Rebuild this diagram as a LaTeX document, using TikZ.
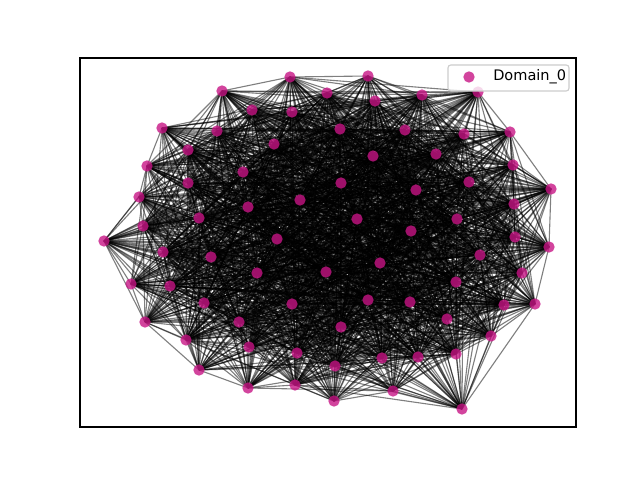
\documentclass[tikz,border=0pt]{standalone}
\usepackage{fontspec}
\setmainfont{DejaVu Sans}
\definecolor{mvr}{RGB}{199,21,133}
\tikzset{
  edge/.style={draw=black, draw opacity=0.5, line width=0.8pt},
  dot/.style={fill=mvr, fill opacity=0.8},
  legframe/.style={draw=black!20, fill=white, fill opacity=0.8, line width=0.8pt, rounded corners=2pt},
  frame/.style={draw=black, line width=0.8pt}
}
\begin{document}
\begin{tikzpicture}[x=0.01in,y=-0.01in]
\useasboundingbox (0,0) rectangle (640,480);
\def\xs{{222,290,368,478,510,513,551,514,515,549,522,535,504,491,462,456,418,393,382,334,335,295,297,248,249,199,186,145,131,104,143,139,147,162,252,292,327,375,422,217,274,340,405,464,188,243,373,436,469,188,341,416,248,300,199,357,457,411,277,163,211,380,326,257,480,170,456,204,292,368,410,239,447,341}}
\def\ys{{91,77,76,92,132,165,189,204,237,247,273,304,305,336,409,354,357,391,358,401,366,385,353,388,347,370,340,322,284,241,226,197,166,128,110,112,93,101,95,131,144,129,130,134,150,172,156,154,182,183,183,190,207,200,218,219,219,231,239,252,257,263,272,273,255,286,282,303,304,300,302,322,319,327}}
\def\ws{{0.62,0.62,0.62,0.62,0.62,0.85,0.62,0.85,0.85,0.62,0.85,0.62,0.85,0.62,0.62,0.85,0.85,0.62,0.85,0.62,0.85,0.62,0.85,0.62,0.85,0.62,0.85,0.62,0.62,0.62,0.72,0.62,0.62,0.62,0.85,0.85,0.85,0.85,0.85,0.85,1,1,1,0.85,0.85,1,1,1,1,0.85,1,1,1,1,0.85,1,1,1,1,0.85,1,1,1,1,0.85,0.85,1,0.85,1,1,1,0.85,0.85,1}}
% node positions
\foreach \k in {1,...,74}{
  \pgfmathsetmacro\cx{\xs[\k-1]}
  \pgfmathsetmacro\cy{\ys[\k-1]}
  \coordinate (n\k) at (\cx,\cy);
}
% edges
\pgfmathsetseed{11}
\foreach \i in {1,...,73}{
  \pgfmathtruncatemacro\inext{\i+1}
  \pgfmathsetmacro\xi{\xs[\i-1]}
  \pgfmathsetmacro\yi{\ys[\i-1]}
  \pgfmathsetmacro\wi{\ws[\i-1]}
  \foreach \j in {\inext,...,74}{
    \pgfmathsetmacro\pr{\wi*\ws[\j-1] + ((veclen((\xi-\xs[\j-1])/100,(\yi-\ys[\j-1])/100)<0.8) ? 0.4 : 0)}
    \pgfmathparse{(rnd<\pr) ? 1 : 0}
    \ifdim\pgfmathresult pt>0.5pt \draw[edge] (n\i) -- (n\j);\fi
  }
}
% nodes
\foreach \k in {1,...,74}{
  \fill[dot] (n\k) circle[radius=4.1pt];
}
% axes frame
\draw[frame] (80,58) rectangle (576,427);
% legend
\path[legframe] (448,65) rectangle (569,91);
\coordinate (legdot) at (469,77);
\fill[dot] (legdot) circle[radius=4.1pt];
\node[anchor=west, inner sep=0pt, font=\fontsize{10.5}{12}\selectfont] (legtext) at (493,77) {Domain\_0};
\end{tikzpicture}
\end{document}
